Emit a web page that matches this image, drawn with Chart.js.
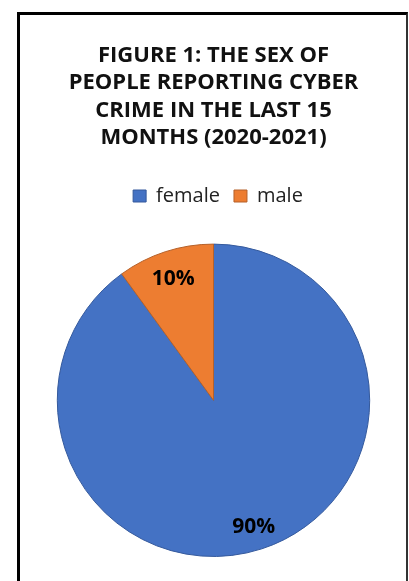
<!DOCTYPE html>
<html>
<head>
<meta charset="utf-8">
<script src="https://cdn.jsdelivr.net/npm/chart.js@4/dist/chart.umd.min.js"></script>
<style>
  html, body { margin: 0; padding: 0; background: #fff; }
  body { width: 409px; height: 581px; position: relative; overflow: hidden; }
  #frame {
    position: absolute; left: 17px; top: 12px; width: 386px; height: 620px;
    border-left: 3px solid #000; border-top: 3px solid #000; border-right: 2px solid #333;
  }
  #wrap { position: absolute; left: 0; top: 0; width: 409px; height: 581px; }
</style>
</head>
<body>
<div id="frame"></div>
<div id="wrap"><canvas id="chart"></canvas></div>
<script>
const titleLines = [
  'FIGURE 1: THE SEX OF',
  'PEOPLE REPORTING CYBER',
  'CRIME IN THE LAST 15',
  'MONTHS (2020-2021)'
];
const categories = ['female', 'male'];
const shares = [90, 10];
const sliceColors = ['#4472C4', '#ED7D31'];
const sliceEdges = ['#34599C', '#B5612A'];

// Percent labels placed along each slice's mid-angle
const sliceLabels = {
  id: 'sliceLabels',
  afterDatasetsDraw(chart) {
    const ctx = chart.ctx;
    const meta = chart.getDatasetMeta(0);
    const total = shares.reduce((a, b) => a + b, 0);
    ctx.save();
    ctx.font = 'bold 21px "Open Sans"';
    ctx.fillStyle = '#000';
    ctx.textAlign = 'center';
    ctx.textBaseline = 'middle';
    meta.data.forEach((arc, i) => {
      const p = arc.getProps(['x', 'y', 'startAngle', 'endAngle', 'outerRadius'], true);
      const mid = (p.startAngle + p.endAngle) / 2;
      const r = p.outerRadius * 0.835;
      const text = Math.round(shares[i] / total * 100) + '%';
      // +3 keeps the digits visually centred on the anchor point
      ctx.fillText(text, p.x + Math.cos(mid) * r, p.y + Math.sin(mid) * r + 3);
    });
    ctx.restore();
  }
};

// Extra room between the legend row and the pie, and a small nudge to the right
const legendTweak = {
  id: 'legendTweak',
  beforeInit(chart) {
    const legend = chart.legend;
    const fit = legend.fit;
    legend.fit = function () {
      fit.call(this);
      this.height += 27.6;
    };
    const draw = legend.draw;
    legend.draw = function () {
      const ctx = this.ctx;
      ctx.save();
      ctx.translate(4.5, 0);
      draw.call(this);
      ctx.restore();
    };
  }
};

new Chart(document.getElementById('chart'), {
  type: 'pie',
  data: {
    labels: categories,
    datasets: [{
      data: shares,
      backgroundColor: sliceColors,
      borderColor: sliceEdges,
      borderWidth: 1
    }]
  },
  options: {
    responsive: true,
    maintainAspectRatio: false,
    animation: false,
    layout: { padding: { left: 18, right: 0, top: 0, bottom: 24 } },
    plugins: {
      title: {
        display: true,
        text: titleLines,
        color: '#111',
        font: { family: '"Open Sans"', size: 22, weight: 'bold', lineHeight: 1.25 },
        padding: { top: 41.5, bottom: 20.5 }
      },
      legend: {
        display: true,
        position: 'top',
        labels: {
          color: '#222',
          font: { family: '"Open Sans"', size: 20 },
          boxWidth: 13,
          boxHeight: 12,
          padding: 14
        }
      },
      tooltip: { enabled: false }
    }
  },
  plugins: [legendTweak, sliceLabels]
});
</script>
</body>
</html>
